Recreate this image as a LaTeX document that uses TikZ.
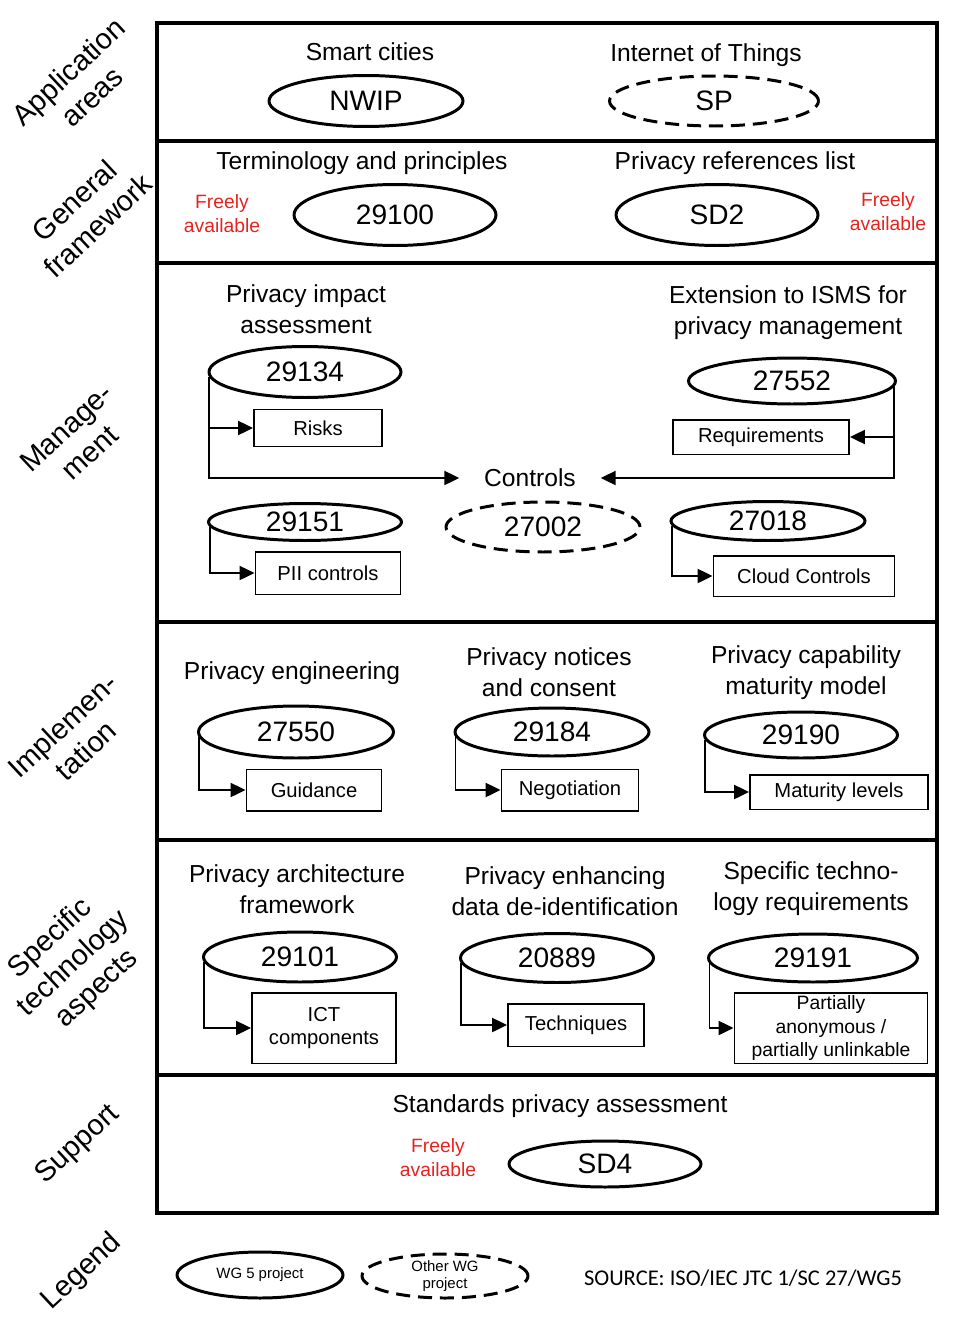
\documentclass[tikz,border=0pt]{standalone}
\usepackage{fontspec}
\setmainfont{Liberation Sans}
\newfontfamily\srcfont{Carlito}
\usetikzlibrary{shapes.geometric,arrows.meta}
\definecolor{freered}{RGB}{232,34,30}

\tikzset{
  band/.style={draw=black,line width=2.3pt},
  wgproj/.style={ellipse,draw=black,line width=1.7pt,inner sep=0pt,font=\fontsize{16}{18}\selectfont},
  otherproj/.style={wgproj,dash pattern=on 8pt off 4.5pt},
  docbox/.style={rectangle,draw=black,line width=0.85pt,inner sep=0pt,align=center,font=\fontsize{11.5}{13.5}\selectfont},
  topic/.style={align=center,font=\fontsize{14}{17.5}\selectfont},
  free/.style={align=center,text=freered,font=\fontsize{11}{13.6}\selectfont},
  side/.style={align=center,rotate=43,inner sep=1pt,font=\fontsize{16.5}{19.5}\selectfont},
  conn/.style={draw=black,line width=1.1pt,-{Triangle[length=8.5pt,width=8pt]}}
}

\begin{document}
\begin{tikzpicture}[x=0.02cm,y=-0.02cm]
        \useasboundingbox (0,0) rectangle (979,1328);
        % bands
        \foreach \ya/\yb in {23/141,141/263,263/622,622/840,840/1075,1075/1213}
          \draw[band] (157,\ya) rectangle (937,\yb);
        % side labels
        \begin{scope}[every node/.style={side}]
          \node (lapp) at (80,84) {Application\\areas};
          \node (lgen) at (86,213) {General\\framework};
          \node (lman) at (78,440) {Manage-\\ment};
          \node (limp) at (74,738) {Implemen-\\tation};
          \node (lspec) at (74,964) {Specific\\technology\\aspects};
          \node (lsup) at (78,1145) {Support};
          \node (lleg) at (82,1272) {Legend};
        \end{scope}
        % topics
        \begin{scope}[every node/.style={topic}]
          \node (tsmart) at (370,52) {Smart cities};
          \node (tiot) at (706,55) {Internet of Things};
          \node (tterm) at (362,163) {Terminology and principles};
          \node (tref) at (735,163) {Privacy references list};
          \node (tpia) at (306,309) {Privacy impact\\assessment};
          \node (tisms) at (788,313) {Extension to ISMS for\\privacy management};
          \node[inner xsep=14pt] (ctrl) at (530,478) {Controls};
          \node (teng) at (292,673) {Privacy engineering};
          \node (tnot) at (549,672) {Privacy notices\\and consent};
          \node (tcap) at (806,673) {Privacy capability\\maturity model};
          \node (tarch) at (297,889) {Privacy architecture\\framework};
          \node (tdeid) at (565,891) {Privacy enhancing\\data de-identification};
          \node (ttech) at (811,889) {Specific techno-\\logy requirements};
          \node (tstd) at (560,1106) {Standards privacy assessment};
        \end{scope}
        \begin{scope}[every node/.style={free}]
          \node (f1) at (222,214) {Freely\\available};
          \node (f2) at (888,212) {Freely\\available};
          \node (f3) at (438,1158) {Freely\\available};
        \end{scope}
        % projects
        \begin{scope}[every node/.style={wgproj}]
          \node[minimum width=3.88cm,minimum height=1.02cm] (nwip) at (366,101) {NWIP};
          \node[minimum width=4.04cm,minimum height=1.22cm] (p29100) at (395,215) {29100};
          \node[minimum width=4.04cm,minimum height=1.22cm] (sd2) at (717,215) {SD2};
          \node[minimum width=3.84cm,minimum height=1.02cm] (p29134) at (305,372) {29134};
          \node[minimum width=4.14cm,minimum height=0.92cm] (p27552) at (792,381) {27552};
          \node[minimum width=3.86cm,minimum height=0.74cm] (p29151) at (305,522) {29151};
          \node[minimum width=3.88cm,minimum height=0.78cm] (p27018) at (768,521) {27018};
          \node[minimum width=3.9cm,minimum height=1.04cm] (p27550) at (296,732) {27550};
          \node[minimum width=3.88cm,minimum height=0.96cm] (p29184) at (552,732) {29184};
          \node[minimum width=3.86cm,minimum height=0.92cm] (p29190) at (801,735) {29190};
          \node[minimum width=3.86cm,minimum height=1.0cm] (p29101) at (300,957) {29101};
          \node[minimum width=3.86cm,minimum height=0.98cm] (p20889) at (557,958) {20889};
          \node[minimum width=4.18cm,minimum height=0.96cm] (p29191) at (813,958) {29191};
          \node[minimum width=3.84cm,minimum height=0.92cm] (sd4) at (605,1164) {SD4};
        \end{scope}
        \begin{scope}[every node/.style={otherproj}]
          \node[minimum width=4.18cm,minimum height=1.0cm] (sp) at (714,101) {SP};
          \node[minimum width=3.88cm,minimum height=1.0cm] (p27002) at (543,527) {27002};
        \end{scope}
        % documents
        \begin{scope}[every node/.style={docbox}]
          \node[minimum width=2.57cm,minimum height=0.75cm] (risks) at (318,428) {Risks};
          \node[minimum width=3.53cm,minimum height=0.69cm] (req) at (761,437) {Requirements};
          \node[minimum width=2.91cm,minimum height=0.85cm] (pii) at (328,573) {PII controls};
          \node[minimum width=3.63cm,minimum height=0.81cm] (cloud) at (804,576) {Cloud Controls};
          \node[minimum width=2.71cm,minimum height=0.83cm] (guid) at (314,790) {Guidance};
          \node[minimum width=2.75cm,minimum height=0.83cm] (nego) at (570,790) {Negotiation};
          \node[minimum width=3.57cm,minimum height=0.69cm] (matur) at (839,792) {Maturity levels};
          \node[minimum width=2.89cm,minimum height=1.41cm] (ict) at (324,1028) {ICT\\components};
          \node[minimum width=2.73cm,minimum height=0.85cm] (tech) at (576,1025) {Techniques};
          \node[minimum width=3.87cm,minimum height=1.41cm,font=\fontsize{11}{13.3}\selectfont] (anon) at (831,1028) {Partially\\anonymous /\\partially unlinkable};
        \end{scope}
        % connectors
        \draw[conn] (p29134.183) |- (ctrl.west);
        \draw[conn] (p29134.183 |- risks.west) -- (risks.west);
        \draw[conn] (p27552.357) |- (ctrl.east);
        \draw[conn] (p27552.357 |- req.east) -- (req.east);
        \draw[conn] (p29151.183) |- (pii.west);
        \draw[conn] (p27018.183) |- (cloud.west);
        \draw[conn] (p27550.183) |- (guid.west);
        \draw[conn] (p29184.183) |- (nego.west);
        \draw[conn] (p29190.183) |- (matur.west);
        \draw[conn] (p29101.183) |- (ict.west);
        \draw[conn] (p20889.183) |- (tech.west);
        \draw[conn] (p29191.183) |- (anon.west);
        % legend
        \node[wgproj,minimum width=3.32cm,minimum height=0.92cm,font=\fontsize{8.5}{9.6}\selectfont] (wg5) at (260,1275) {WG 5 project};
        \node[otherproj,minimum width=3.32cm,minimum height=0.88cm,align=center,font=\fontsize{8.5}{9.6}\selectfont] (otherwg) at (445,1276) {Other WG\\project};
        \node[font=\srcfont\fontsize{12.8}{15}\selectfont] (src) at (743,1278) {SOURCE: ISO/IEC JTC 1/SC 27/WG5};
      \end{tikzpicture}
\end{document}
